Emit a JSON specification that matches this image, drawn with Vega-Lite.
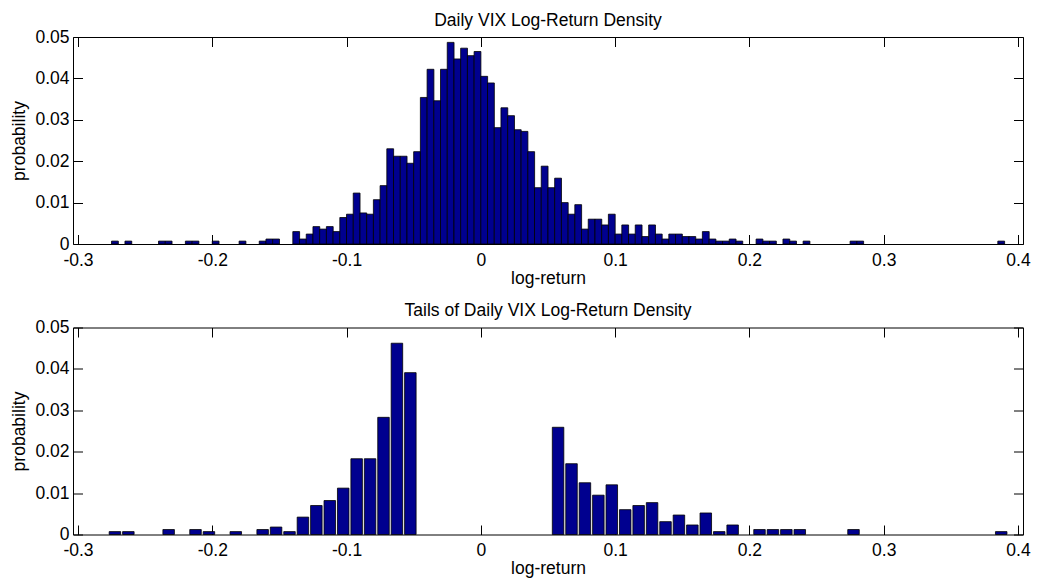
{
  "$schema": "https://vega.github.io/schema/vega-lite/v6.json",
  "background": "white",
  "padding": {"left": 10, "top": 11, "right": 5, "bottom": 5},
  "bounds": "flush",
  "spacing": 83.5,
  "config": {
    "font": "Liberation Sans",
    "view": {"stroke": null},
    "title": {"fontSize": 17.5, "fontWeight": "normal", "color": "black", "offset": -1, "anchor": "middle"},
    "axis": {
      "grid": false,
      "domainColor": "black",
      "domainWidth": 1,
      "tickColor": "black",
      "tickWidth": 1,
      "tickSize": -9.5,
      "labelColor": "black",
      "labelFontSize": 17.5,
      "labelFont": "Liberation Sans",
      "titleFont": "Liberation Sans",
      "titleFontSize": 17.5,
      "titleFontWeight": "normal",
      "titleColor": "black",
      "labelOverlap": false,
      "labelFlush": false
    }
  },
  "datasets": {
    "full": [
      {"center": -0.2725, "probability": 0.0007},
      {"center": -0.2625, "probability": 0.0007},
      {"center": -0.2375, "probability": 0.0007},
      {"center": -0.2325, "probability": 0.0007},
      {"center": -0.2175, "probability": 0.0007},
      {"center": -0.2125, "probability": 0.0007},
      {"center": -0.1975, "probability": 0.0007},
      {"center": -0.1775, "probability": 0.0007},
      {"center": -0.1625, "probability": 0.0007},
      {"center": -0.1575, "probability": 0.0012},
      {"center": -0.1525, "probability": 0.0012},
      {"center": -0.1375, "probability": 0.0030},
      {"center": -0.1325, "probability": 0.0012},
      {"center": -0.1275, "probability": 0.0024},
      {"center": -0.1225, "probability": 0.0042},
      {"center": -0.1175, "probability": 0.0036},
      {"center": -0.1125, "probability": 0.0042},
      {"center": -0.1075, "probability": 0.0030},
      {"center": -0.1025, "probability": 0.0064},
      {"center": -0.0975, "probability": 0.0072},
      {"center": -0.0925, "probability": 0.0123},
      {"center": -0.0875, "probability": 0.0075},
      {"center": -0.0825, "probability": 0.0072},
      {"center": -0.0775, "probability": 0.0107},
      {"center": -0.0725, "probability": 0.0141},
      {"center": -0.0675, "probability": 0.0230},
      {"center": -0.0625, "probability": 0.0212},
      {"center": -0.0575, "probability": 0.0212},
      {"center": -0.0525, "probability": 0.0195},
      {"center": -0.0475, "probability": 0.0223},
      {"center": -0.0425, "probability": 0.0354},
      {"center": -0.0375, "probability": 0.0422},
      {"center": -0.0325, "probability": 0.0346},
      {"center": -0.0275, "probability": 0.0422},
      {"center": -0.0225, "probability": 0.0487},
      {"center": -0.0175, "probability": 0.0447},
      {"center": -0.0125, "probability": 0.0473},
      {"center": -0.0075, "probability": 0.0455},
      {"center": -0.0025, "probability": 0.0465},
      {"center": 0.0025, "probability": 0.0405},
      {"center": 0.0075, "probability": 0.0389},
      {"center": 0.0125, "probability": 0.0281},
      {"center": 0.0175, "probability": 0.0329},
      {"center": 0.0225, "probability": 0.0310},
      {"center": 0.0275, "probability": 0.0276},
      {"center": 0.0325, "probability": 0.0272},
      {"center": 0.0375, "probability": 0.0223},
      {"center": 0.0425, "probability": 0.0136},
      {"center": 0.0475, "probability": 0.0188},
      {"center": 0.0525, "probability": 0.0136},
      {"center": 0.0575, "probability": 0.0159},
      {"center": 0.0625, "probability": 0.0100},
      {"center": 0.0675, "probability": 0.0072},
      {"center": 0.0725, "probability": 0.0095},
      {"center": 0.0775, "probability": 0.0036},
      {"center": 0.0825, "probability": 0.0060},
      {"center": 0.0875, "probability": 0.0060},
      {"center": 0.0925, "probability": 0.0046},
      {"center": 0.0975, "probability": 0.0072},
      {"center": 0.1025, "probability": 0.0024},
      {"center": 0.1075, "probability": 0.0046},
      {"center": 0.1125, "probability": 0.0024},
      {"center": 0.1175, "probability": 0.0046},
      {"center": 0.1225, "probability": 0.0018},
      {"center": 0.1275, "probability": 0.0046},
      {"center": 0.1325, "probability": 0.0024},
      {"center": 0.1375, "probability": 0.0012},
      {"center": 0.1425, "probability": 0.0024},
      {"center": 0.1475, "probability": 0.0024},
      {"center": 0.1525, "probability": 0.0018},
      {"center": 0.1575, "probability": 0.0018},
      {"center": 0.1625, "probability": 0.0012},
      {"center": 0.1675, "probability": 0.0030},
      {"center": 0.1725, "probability": 0.0012},
      {"center": 0.1775, "probability": 0.0007},
      {"center": 0.1825, "probability": 0.0007},
      {"center": 0.1875, "probability": 0.0012},
      {"center": 0.1925, "probability": 0.0007},
      {"center": 0.2075, "probability": 0.0012},
      {"center": 0.2125, "probability": 0.0007},
      {"center": 0.2175, "probability": 0.0007},
      {"center": 0.2275, "probability": 0.0012},
      {"center": 0.2325, "probability": 0.0007},
      {"center": 0.2425, "probability": 0.0007},
      {"center": 0.2775, "probability": 0.0007},
      {"center": 0.2825, "probability": 0.0007},
      {"center": 0.3875, "probability": 0.0007}
    ],
    "tails": [
      {"center": -0.2725, "probability": 0.0007},
      {"center": -0.2625, "probability": 0.0007},
      {"center": -0.2325, "probability": 0.0012},
      {"center": -0.2125, "probability": 0.0012},
      {"center": -0.2025, "probability": 0.0007},
      {"center": -0.1825, "probability": 0.0007},
      {"center": -0.1625, "probability": 0.0012},
      {"center": -0.1525, "probability": 0.0018},
      {"center": -0.1425, "probability": 0.0007},
      {"center": -0.1325, "probability": 0.0042},
      {"center": -0.1225, "probability": 0.0070},
      {"center": -0.1125, "probability": 0.0082},
      {"center": -0.1025, "probability": 0.0112},
      {"center": -0.0925, "probability": 0.0183},
      {"center": -0.0825, "probability": 0.0183},
      {"center": -0.0725, "probability": 0.0283},
      {"center": -0.0625, "probability": 0.0462},
      {"center": -0.0525, "probability": 0.0391},
      {"center": 0.0575, "probability": 0.0259},
      {"center": 0.0675, "probability": 0.0171},
      {"center": 0.0775, "probability": 0.0125},
      {"center": 0.0875, "probability": 0.0095},
      {"center": 0.0975, "probability": 0.0120},
      {"center": 0.1075, "probability": 0.0060},
      {"center": 0.1175, "probability": 0.0070},
      {"center": 0.1275, "probability": 0.0077},
      {"center": 0.1375, "probability": 0.0031},
      {"center": 0.1475, "probability": 0.0047},
      {"center": 0.1575, "probability": 0.0023},
      {"center": 0.1675, "probability": 0.0052},
      {"center": 0.1775, "probability": 0.0007},
      {"center": 0.1875, "probability": 0.0023},
      {"center": 0.2075, "probability": 0.0012},
      {"center": 0.2175, "probability": 0.0012},
      {"center": 0.2275, "probability": 0.0012},
      {"center": 0.2375, "probability": 0.0012},
      {"center": 0.2775, "probability": 0.0012},
      {"center": 0.3875, "probability": 0.0007}
    ]
  },
  "vconcat": [
    {
      "title": "Daily VIX Log-Return Density",
      "width": 950,
      "height": 207,
      "data": {"name": "full"},
      "layer": [
        {
          "mark": {"type": "bar", "width": 6.8, "fill": "#00008F", "stroke": "black", "strokeWidth": 0.8},
          "encoding": {
            "x": {"field": "center", "type": "quantitative", "scale": {"domain": [-0.3, 0.4], "nice": false, "zero": false},
              "axis": {"orient": "bottom", "title": "log-return", "values": [-0.3, -0.2, -0.1, 0, 0.1, 0.2, 0.3, 0.4], "labelExpr": "replace(format(datum.value, '~g'), '\u2212', '-')", "labelPadding": 16.7, "titlePadding": 0.5}},
            "y": {"field": "probability", "type": "quantitative", "scale": {"domain": [0, 0.05], "nice": false},
              "axis": {"orient": "left", "title": "probability", "values": [0, 0.01, 0.02, 0.03, 0.04, 0.05], "format": ".2~f", "labelPadding": 13.5, "titlePadding": 6}}
          }
        },
        {
          "mark": {"type": "bar", "opacity": 0, "width": 1},
          "encoding": {
            "x": {"field": "center", "type": "quantitative", "axis": {"orient": "top", "title": null, "labels": false, "values": [-0.3, -0.2, -0.1, 0, 0.1, 0.2, 0.3, 0.4]}},
            "y": {"field": "probability", "type": "quantitative", "axis": {"orient": "right", "title": null, "labels": false, "values": [0, 0.01, 0.02, 0.03, 0.04, 0.05]}}
          }
        }
      ],
      "resolve": {"axis": {"x": "independent", "y": "independent"}}
    },
    {
      "title": "Tails of Daily VIX Log-Return Density",
      "width": 950,
      "height": 207,
      "data": {"name": "tails"},
      "layer": [
        {
          "mark": {"type": "bar", "width": 11.5, "fill": "#00008F", "stroke": "black", "strokeWidth": 0.8},
          "encoding": {
            "x": {"field": "center", "type": "quantitative", "scale": {"domain": [-0.3, 0.4], "nice": false, "zero": false},
              "axis": {"orient": "bottom", "title": "log-return", "values": [-0.3, -0.2, -0.1, 0, 0.1, 0.2, 0.3, 0.4], "labelExpr": "replace(format(datum.value, '~g'), '\u2212', '-')", "labelPadding": 16.7, "titlePadding": 0.5}},
            "y": {"field": "probability", "type": "quantitative", "scale": {"domain": [0, 0.05], "nice": false},
              "axis": {"orient": "left", "title": "probability", "values": [0, 0.01, 0.02, 0.03, 0.04, 0.05], "format": ".2~f", "labelPadding": 13.5, "titlePadding": 6}}
          }
        },
        {
          "mark": {"type": "bar", "opacity": 0, "width": 1},
          "encoding": {
            "x": {"field": "center", "type": "quantitative", "axis": {"orient": "top", "title": null, "labels": false, "values": [-0.3, -0.2, -0.1, 0, 0.1, 0.2, 0.3, 0.4]}},
            "y": {"field": "probability", "type": "quantitative", "axis": {"orient": "right", "title": null, "labels": false, "values": [0, 0.01, 0.02, 0.03, 0.04, 0.05]}}
          }
        }
      ],
      "resolve": {"axis": {"x": "independent", "y": "independent"}}
    }
  ]
}
